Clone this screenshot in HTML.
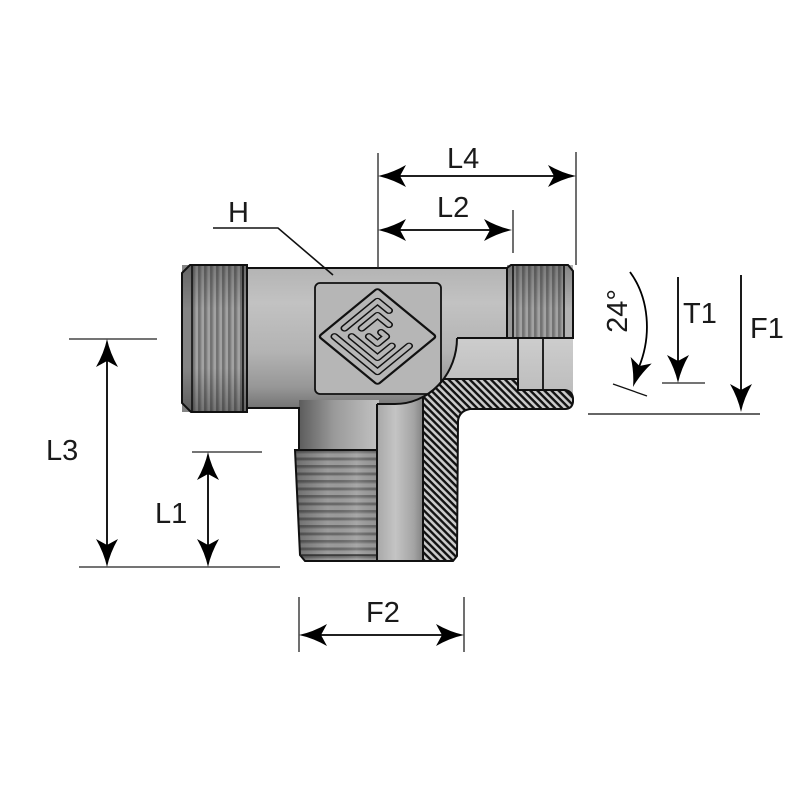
<!DOCTYPE html>
<html><head><meta charset="utf-8"><style>
html,body{margin:0;padding:0;background:#fff;}
svg{display:block;}
text{font-family:"Liberation Sans",sans-serif;font-size:29px;fill:#1a1a1a;}
</style></head><body>
<svg width="800" height="800" viewBox="0 0 800 800" xmlns="http://www.w3.org/2000/svg">
<defs>
 <linearGradient id="bodyG" x1="0" y1="268" x2="0" y2="408" gradientUnits="userSpaceOnUse">
  <stop offset="0" stop-color="#b4b4b4"/>
  <stop offset="0.25" stop-color="#c2c2c2"/>
  <stop offset="0.6" stop-color="#b3b3b3"/>
  <stop offset="0.85" stop-color="#979797"/>
  <stop offset="1" stop-color="#747474"/>
 </linearGradient>
 <linearGradient id="stemG" x1="299" y1="0" x2="377" y2="0" gradientUnits="userSpaceOnUse">
  <stop offset="0" stop-color="#5c5c5c"/>
  <stop offset="0.45" stop-color="#9a9a9a"/>
  <stop offset="1" stop-color="#c0c0c0"/>
 </linearGradient>
 <linearGradient id="boreG" x1="377" y1="0" x2="423" y2="0" gradientUnits="userSpaceOnUse">
  <stop offset="0" stop-color="#a8a8a8"/>
  <stop offset="0.4" stop-color="#c4c4c4"/>
  <stop offset="0.8" stop-color="#a4a4a4"/>
  <stop offset="1" stop-color="#828282"/>
 </linearGradient>
 <linearGradient id="portG" x1="0" y1="338" x2="0" y2="392" gradientUnits="userSpaceOnUse">
  <stop offset="0" stop-color="#cdcdcd"/>
  <stop offset="1" stop-color="#bdbdbd"/>
 </linearGradient>
 <pattern id="vStripe" width="6" height="10" patternUnits="userSpaceOnUse">
  <rect width="6" height="10" fill="#a2a2a2"/>
  <rect x="0" width="2.6" height="10" fill="#737373"/>
  <rect x="2.6" width="1" height="10" fill="#8c8c8c"/>
 </pattern>
 <pattern id="hStripe" width="10" height="7.5" patternUnits="userSpaceOnUse" y="450">
  <rect width="10" height="7.5" fill="#9c9c9c"/>
  <rect y="0" width="10" height="2.6" fill="#6a6a6a"/>
  <rect y="2.6" width="10" height="1" fill="#858585"/>
 </pattern>
 <pattern id="hatch" width="10" height="5" patternUnits="userSpaceOnUse" patternTransform="rotate(45)">
  <rect width="10" height="5" fill="#cbcbcb"/>
  <rect width="10" height="2.4" fill="#111"/>
 </pattern>
 <linearGradient id="nutShade" x1="0" y1="265" x2="0" y2="412" gradientUnits="userSpaceOnUse">
  <stop offset="0" stop-color="#000" stop-opacity="0.25"/>
  <stop offset="0.3" stop-color="#000" stop-opacity="0"/>
  <stop offset="0.7" stop-color="#000" stop-opacity="0"/>
  <stop offset="1" stop-color="#000" stop-opacity="0.3"/>
 </linearGradient>
 <linearGradient id="threadShade" x1="295" y1="0" x2="377" y2="0" gradientUnits="userSpaceOnUse">
  <stop offset="0" stop-color="#000" stop-opacity="0.3"/>
  <stop offset="0.4" stop-color="#000" stop-opacity="0"/>
  <stop offset="0.75" stop-color="#fff" stop-opacity="0.12"/>
  <stop offset="1" stop-color="#000" stop-opacity="0.05"/>
 </linearGradient>
 <path id="ah" d="M0,0 Q-14,-3 -28,-11 L-22,0 L-28,11 Q-14,3 0,0 Z" fill="#000"/>
</defs>

<!-- body horizontal -->
<rect x="246" y="268" width="262" height="140" fill="url(#bodyG)"/>
<!-- stem above thread -->
<rect x="299" y="400" width="80" height="52" fill="url(#stemG)"/>
<!-- thread -->
<path d="M295,450 L377,450 L377,561 L305,561 L300,555 Z" fill="url(#hStripe)"/>
<path d="M295,450 L377,450 L377,561 L305,561 L300,555 Z" fill="url(#threadShade)" stroke="#111" stroke-width="2"/>
<line x1="300" y1="555" x2="377" y2="555" stroke="#222" stroke-width="1.2"/>
<!-- bore -->
<path d="M377,404 L395,404 A62,66 0 0 0 423,397 L423,561 L377,561 Z" fill="url(#boreG)"/>
<!-- logo box -->
<rect x="315" y="283" width="126" height="111" rx="5" fill="#b6b6b6" stroke="#111" stroke-width="1.8"/>
<g transform="matrix(0.717,0.589,-0.717,0.589,377.5,336.5)" fill="none" stroke-linecap="round" stroke-linejoin="round">
 <rect x="-41" y="-41" width="82" height="82" rx="3" stroke="#111" stroke-width="2.4"/>
 <g stroke="#111" stroke-width="8">
  <path d="M-30,30 L30,30 L30,-14"/>
  <path d="M-14,-30 L-30,-30 L-30,16"/>
  <path d="M-18,18 L18,18 L18,-2"/>
  <path d="M-2,-18 L-18,-18 L-18,4"/>
  <path d="M-6,6 L6,6 L6,-6 L-1,-6"/>
 </g>
 <g stroke="#b6b6b6" stroke-width="4.8">
  <path d="M-30,30 L30,30 L30,-14"/>
  <path d="M-14,-30 L-30,-30 L-30,16"/>
  <path d="M-18,18 L18,18 L18,-2"/>
  <path d="M-2,-18 L-18,-18 L-18,4"/>
  <path d="M-6,6 L6,6 L6,-6 L-1,-6"/>
 </g>
</g>
<!-- right port bore -->
<path d="M457,338 L573,338 L573,400 L443.6,400 L443.6,379 A62,66 0 0 0 457,338 Z" fill="url(#portG)"/>
<line x1="518" y1="338" x2="518" y2="390" stroke="#111" stroke-width="1.8"/>
<line x1="543" y1="338" x2="543" y2="390" stroke="#111" stroke-width="1.8"/>
<!-- hatched section -->
<path d="M423,561 L423,397 A62,66 0 0 0 443.6,379 L518,379 L518,390 L565,390 Q572,391 573,398 L573,402 Q572,409 565,409 L470,409 Q459,411 458,421 L457,556 L453,561 Z" fill="url(#hatch)" stroke="#111" stroke-width="2"/>
<!-- body outlines -->
<path d="M377,404 L395,404 A62,66 0 0 0 457,338" fill="none" stroke="#111" stroke-width="2"/>
<line x1="377" y1="404" x2="377" y2="561" stroke="#111" stroke-width="2"/>
<line x1="305" y1="561" x2="453" y2="561" stroke="#111" stroke-width="2"/>
<line x1="457" y1="338" x2="573" y2="338" stroke="#111" stroke-width="2"/>
<line x1="246" y1="268" x2="508" y2="268" stroke="#111" stroke-width="2"/>
<path d="M246,408 L299,408 L299,450" fill="none" stroke="#111" stroke-width="2"/>

<!-- left nut -->
<path d="M182,273 L190,265 L247,265 L247,412 L191,412 L182,403 Z" fill="url(#vStripe)"/>
<rect x="182" y="265" width="10" height="147" fill="#858585"/>
<rect x="243" y="265" width="4" height="147" fill="#8e8e8e"/>
<path d="M182,273 L190,265 L247,265 L247,412 L191,412 L182,403 Z" fill="url(#nutShade)" stroke="#111" stroke-width="2"/>
<line x1="192" y1="265" x2="192" y2="412" stroke="#111" stroke-width="1.6"/>
<line x1="243" y1="265" x2="243" y2="412" stroke="#111" stroke-width="1.6"/>
<!-- right nut -->
<path d="M507,268 L511,265 L568,265 L573,271 L573,338 L507,338 Z" fill="url(#vStripe)"/>
<rect x="507" y="265" width="6" height="73" fill="#9a9a9a"/>
<rect x="564" y="265" width="9" height="73" fill="#b2b2b2"/>
<path d="M507,268 L511,265 L568,265 L573,271 L573,338 L507,338 Z" fill="url(#nutShade)" stroke="#111" stroke-width="2"/>
<line x1="513" y1="265" x2="513" y2="338" stroke="#111" stroke-width="1.6"/>
<line x1="564" y1="265" x2="564" y2="338" stroke="#111" stroke-width="1.6"/>

<!-- H leader -->
<polyline points="213,228 278,228 333,275" fill="none" stroke="#111" stroke-width="1.6"/>
<text x="228" y="222">H</text>

<!-- L4 / L2 -->
<g stroke="#222" stroke-width="1.3">
 <line x1="378" y1="153" x2="378" y2="268"/>
 <line x1="576" y1="152" x2="576" y2="265"/>
 <line x1="513" y1="210" x2="513" y2="253"/>
</g>
<g stroke="#000" stroke-width="1.8">
 <line x1="395" y1="176" x2="560" y2="176"/>
 <line x1="395" y1="230" x2="496" y2="230"/>
</g>
<use href="#ah" transform="translate(378,176) rotate(180)"/>
<use href="#ah" transform="translate(576,176)"/>
<use href="#ah" transform="translate(378,230) rotate(180)"/>
<use href="#ah" transform="translate(512,230)"/>
<text x="447" y="168">L4</text>
<text x="437" y="217">L2</text>

<!-- L3 / L1 -->
<g stroke="#222" stroke-width="1.3">
 <line x1="69" y1="339" x2="157" y2="339"/>
 <line x1="79" y1="567" x2="280" y2="567"/>
 <line x1="192" y1="452" x2="262" y2="452"/>
</g>
<g stroke="#000" stroke-width="1.8">
 <line x1="107" y1="355" x2="107" y2="551"/>
 <line x1="208" y1="468" x2="208" y2="551"/>
</g>
<use href="#ah" transform="translate(107,339) rotate(-90)"/>
<use href="#ah" transform="translate(107,567) rotate(90)"/>
<use href="#ah" transform="translate(208,452) rotate(-90)"/>
<use href="#ah" transform="translate(208,567) rotate(90)"/>
<text x="46" y="460">L3</text>
<text x="155" y="523">L1</text>

<!-- F2 -->
<g stroke="#222" stroke-width="1.3">
 <line x1="299" y1="597" x2="299" y2="652"/>
 <line x1="464" y1="597" x2="464" y2="652"/>
</g>
<line x1="315" y1="635" x2="448" y2="635" stroke="#000" stroke-width="1.8"/>
<use href="#ah" transform="translate(299,635) rotate(180)"/>
<use href="#ah" transform="translate(464,635)"/>
<text x="366" y="622">F2</text>

<!-- 24 deg -->
<path d="M630,272 C649,298 652,335 639,367" fill="none" stroke="#000" stroke-width="1.8"/>
<use href="#ah" transform="translate(633,387) rotate(107)"/>
<line x1="613" y1="384" x2="647" y2="396" stroke="#111" stroke-width="1.3"/>
<text transform="translate(627,311) rotate(-90)" text-anchor="middle">24°</text>

<!-- T1 -->
<line x1="678" y1="277" x2="678" y2="370" stroke="#000" stroke-width="1.8"/>
<use href="#ah" transform="translate(678,383) rotate(90)"/>
<line x1="662" y1="383" x2="705" y2="383" stroke="#222" stroke-width="1.3"/>
<text x="683" y="323">T1</text>

<!-- F1 -->
<line x1="741" y1="275" x2="741" y2="398" stroke="#000" stroke-width="1.8"/>
<use href="#ah" transform="translate(741,412) rotate(90)"/>
<line x1="588" y1="414" x2="760" y2="414" stroke="#666" stroke-width="2"/>
<text x="750" y="338">F1</text>
</svg>
</body></html>
